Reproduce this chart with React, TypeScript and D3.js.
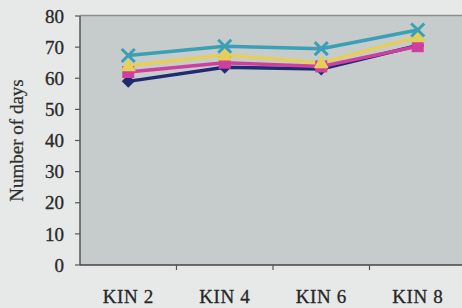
import React from "react";
import * as d3 from "d3";

const categories = ["KIN 2", "KIN 4", "KIN 6", "KIN 8"];
const seriesDiamond = [59, 63.5, 63, 70.5];
const seriesSquare = [62, 65, 63.8, 70.3];
const seriesTriangle = [64, 67.5, 65, 73.3];
const seriesCross = [67.3, 70.3, 69.5, 75.5];
const yTicks = [0, 10, 20, 30, 40, 50, 60, 70, 80];

const W = 462, H = 308;
const M = { left: 80, top: 16, right: 466, bottom: 265 };

export default function App() {
  const x = d3.scaleBand().domain(categories).range([M.left, M.right]);
  const y = d3.scaleLinear().domain([0, 80]).range([M.bottom, M.top]);
  const line = d3.line<number>().x((_, i) => x(categories[i])! + x.bandwidth() / 2).y((d) => y(d));
  const cx = (i: number) => x(categories[i])! + x.bandwidth() / 2;

  const series = [
    { data: seriesCross, color: "#3b9fb5", shape: "cross" },
    { data: seriesTriangle, color: "#e6cf58", shape: "triangle" },
    { data: seriesSquare, color: "#cf3f9e", shape: "square" },
    { data: seriesDiamond, color: "#1e2a72", shape: "diamond" },
  ];

  const marker = (shape: string, px: number, py: number, color: string, k: string) => {
    if (shape === "diamond")
      return <path key={k} d={`M${px},${py - 6.5}L${px + 6.5},${py}L${px},${py + 6.5}L${px - 6.5},${py}Z`} fill={color} />;
    if (shape === "square")
      return <rect key={k} x={px - 6} y={py - 6} width={12} height={12} fill={color} />;
    if (shape === "triangle")
      return <path key={k} d={`M${px},${py - 8}L${px + 7.5},${py + 5.5}L${px - 7.5},${py + 5.5}Z`} fill={color} />;
    return (
      <g key={k} stroke={color} strokeWidth={3}>
        <line x1={px - 6.5} y1={py - 6.5} x2={px + 6.5} y2={py + 6.5} />
        <line x1={px - 6.5} y1={py + 6.5} x2={px + 6.5} y2={py - 6.5} />
      </g>
    );
  };

  const drawOrder = [...series].reverse();
  const font = "Liberation Serif, serif";

  return (
    <svg width={W} height={H} style={{ position: "absolute", left: 0, top: 0 }}>
      <rect x={0} y={0} width={W} height={H} fill="#e7e9e9" />
      <rect x={M.left} y={M.top} width={M.right - M.left} height={M.bottom - M.top} fill="#c6cbcc" />
      <line x1={M.left} x2={M.right} y1={M.top - 0.5} y2={M.top - 0.5} stroke="#8a8f92" strokeWidth={1.5} />
      {drawOrder.map((s, si) => (
        <path key={"l" + si} d={line(s.data)!} fill="none" stroke={s.color} strokeWidth={3.5} />
      ))}
      {drawOrder.map((s, si) => s.data.map((v, i) => marker(s.shape, cx(i), y(v), s.color, `m${si}-${i}`)))}
      <line x1={M.left} x2={M.left} y1={M.top} y2={M.bottom} stroke="#555" strokeWidth={1.5} />
      <line x1={M.left} x2={M.right} y1={M.bottom} y2={M.bottom} stroke="#444" strokeWidth={1.5} />
      {yTicks.map((t) => (
        <g key={t}>
          <line x1={M.left - 5} x2={M.left} y1={y(t)} y2={y(t)} stroke="#555" strokeWidth={1.2} />
          <text x={M.left - 16} y={y(t)} dy="0.35em" textAnchor="end" fontFamily={font} fontSize={19} fill="#2a2a2a" stroke="#2a2a2a" strokeWidth={0.35}>
            {t}
          </text>
        </g>
      ))}
      {categories.map((c, i) => (
        <g key={c}>
          {i > 0 && (
            <line x1={x(c)!} x2={x(c)!} y1={M.bottom} y2={M.bottom + 5} stroke="#555" strokeWidth={1.2} />
          )}
          <text x={cx(i)} y={303} textAnchor="middle" fontFamily={font} fontSize={19} fill="#262626" stroke="#262626" strokeWidth={0.3} style={{ letterSpacing: "0.6px" }}>
            {c}
          </text>
        </g>
      ))}
      <text
        transform={`translate(23,${(M.top + M.bottom) / 2}) rotate(-90)`}
        textAnchor="middle"
        fontFamily={font}
        fontSize={19}
        fill="#2f2f2f"
        stroke="#2f2f2f"
        strokeWidth={0.25}
      >
        Number of days
      </text>
    </svg>
  );
}
